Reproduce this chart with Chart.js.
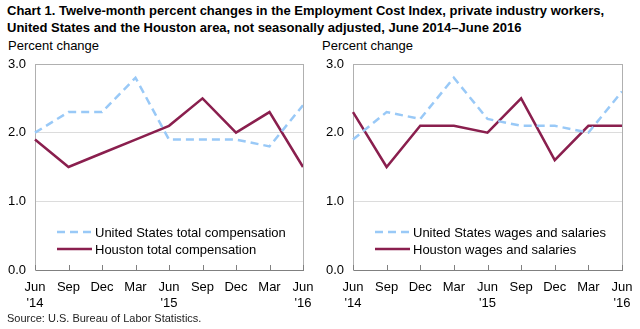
<!DOCTYPE html>
<html>
<head>
<meta charset="utf-8">
<script src="https://cdn.jsdelivr.net/npm/chart.js@4"></script>
<style>
  body { margin: 0; width: 640px; height: 329px; background: #fff; position: relative; overflow: hidden;
         font-family: "Liberation Sans", Arial, sans-serif; color: #000; }
  .title { position: absolute; left: 7px; top: 2px; font-weight: bold; font-size: 13px; line-height: 17px; white-space: nowrap; }
  .unit { position: absolute; top: 38px; font-size: 13px; }
  .source { position: absolute; left: 7px; top: 312px; font-size: 11px; color: #222; }
  canvas { position: absolute; top: 55px; }
</style>
</head>
<body>
<div class="title">Chart 1. Twelve-month percent changes in the Employment Cost Index, private industry workers,<br>United States and the Houston area, not seasonally adjusted, June 2014–June 2016</div>
<div class="unit" style="left:8px">Percent change</div>
<div class="unit" style="left:322px">Percent change</div>
<canvas id="compChart" width="320" height="260" style="left:0"></canvas>
<canvas id="wageChart" width="320" height="260" style="left:320px"></canvas>
<div class="source">Source: U.S. Bureau of Labor Statistics.</div>
<script>
const quarters = [['Jun', "'14"], 'Sep', 'Dec', 'Mar', ['Jun', "'15"], 'Sep', 'Dec', 'Mar', ['Jun', "'16"]]

const usTotalComp = [2.0, 2.3, 2.3, 2.8, 1.9, 1.9, 1.9, 1.8, 2.4]
const houstonTotalComp = [1.9, 1.5, 1.7, 1.9, 2.1, 2.5, 2.0, 2.3, 1.5]

const usWages = [1.9, 2.3, 2.2, 2.8, 2.2, 2.1, 2.1, 2.0, 2.6]
const houstonWages = [2.3, 1.5, 2.1, 2.1, 2.0, 2.5, 1.6, 2.1, 2.1]

const BLUE = '#99c9f7'
const MAROON = '#8a1f4e'
const FONT = '"Liberation Sans", Arial, sans-serif'

// right edge of the frame, short upward ticks on the x axis, legend inside the plot
const framePlugin = {
  id: 'frame',
  afterDraw(chart) {
    const { ctx, chartArea: a, scales } = chart
    ctx.save()
    ctx.strokeStyle = '#b0b0b0'
    ctx.lineWidth = 1
    ctx.beginPath()
    ctx.moveTo(Math.round(a.right) + 0.5, a.top)
    ctx.lineTo(Math.round(a.right) + 0.5, a.bottom)
    ctx.stroke()

    ctx.strokeStyle = '#808080'
    scales.x.ticks.forEach((t, i) => {
      const x = Math.round(scales.x.getPixelForTick(i)) + 0.5
      ctx.beginPath()
      ctx.moveTo(x, a.bottom)
      ctx.lineTo(x, a.bottom - 5)
      ctx.stroke()
    })

    ctx.font = '13px ' + FONT
    ctx.textBaseline = 'middle'
    ctx.fillStyle = '#000'
    chart.data.datasets.forEach((ds, i) => {
      const y = a.bottom - 38 + i * 17
      const x0 = a.left + 22
      ctx.strokeStyle = ds.borderColor
      ctx.lineWidth = ds.borderWidth
      ctx.setLineDash(ds.borderDash || [])
      ctx.beginPath()
      ctx.moveTo(x0, y)
      ctx.lineTo(x0 + 35, y)
      ctx.stroke()
      ctx.setLineDash([])
      ctx.fillText(ds.label, x0 + 38, y + 1)
    })
    ctx.restore()
  }
}

function makeChart(id, axisWidth, padRight, usLabel, usData, hLabel, hData) {
  const ctx = document.getElementById(id).getContext('2d')
  return new Chart(ctx, {
    type: 'line',
    data: {
      labels: quarters,
      datasets: [
        {
          label: usLabel,
          data: usData,
          borderColor: BLUE,
          borderWidth: 2.5,
          borderDash: [8, 5],
          pointRadius: 0,
          tension: 0,
        },
        {
          label: hLabel,
          data: hData,
          borderColor: MAROON,
          borderWidth: 2.5,
          pointRadius: 0,
          tension: 0,
        },
      ],
    },
    options: {
      responsive: false,
      animation: false,
      events: [],
      layout: { padding: { top: 9, right: padRight, bottom: 0, left: 0 } },
      plugins: { legend: { display: false }, tooltip: { enabled: false } },
      scales: {
        x: {
          offset: false,
          grid: { display: false, drawTicks: false },
          border: { display: true, color: '#808080', width: 1 },
          ticks: {
            autoSkip: false,
            maxRotation: 0,
            padding: 10,
            color: '#000',
            font: { family: FONT, size: 13, lineHeight: 1.2 },
          },
          afterFit: (s) => {
            s.height = 45
            s.paddingLeft = 0
            s.paddingRight = 0
          },
        },
        y: {
          min: 0,
          max: 3,
          grid: {
            drawTicks: false,
            color: (c) => c.tick.value === 3 ? '#b0b0b0' : c.tick.value === 0 ? 'rgba(0,0,0,0)' : '#dcdcdc',
          },
          border: { display: true, color: '#b0b0b0', width: 1 },
          ticks: {
            stepSize: 1,
            padding: 9,
            color: '#000',
            font: { family: FONT, size: 13 },
            callback: (v) => v.toFixed(1),
          },
          afterFit: (s) => {
            s.width = axisWidth
            s.paddingTop = 0
            s.paddingBottom = 0
          },
        },
      },
    },
    plugins: [framePlugin],
  })
}

makeChart('compChart', 35, 17, 'United States total compensation', usTotalComp, 'Houston total compensation', houstonTotalComp)
makeChart('wageChart', 33, 18, 'United States wages and salaries', usWages, 'Houston wages and salaries', houstonWages)
</script>
</body>
</html>
